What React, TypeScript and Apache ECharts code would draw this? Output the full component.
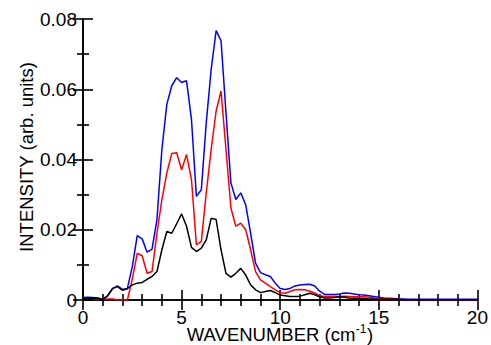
import React, { useEffect, useRef } from "react";
import * as echarts from "echarts";

// wavenumber grid (cm^-1), step 0.25
const wavenumbers: number[] = Array.from({ length: 81 }, (_, i) => i * 0.25);

// intensities in units of 0.01 (arb. units)
const blueValues: number[] = [
  0.07, 0.08, 0.07, 0.06, 0.03, 0.12, 0.32, 0.4, 0.3, 0.33,
  0.95, 1.83, 1.74, 1.36, 1.45, 2.29, 4.29, 5.57, 6.1, 6.33,
  6.19, 6.24, 5.14, 2.95, 3.14, 5.05, 6.57, 7.67, 7.38, 5.33,
  3.33, 2.86, 3.05, 2.71, 1.9, 1.05, 0.78, 0.72, 0.67, 0.48,
  0.33, 0.3, 0.33, 0.4, 0.43, 0.44, 0.45, 0.4, 0.25, 0.16,
  0.16, 0.16, 0.17, 0.2, 0.19, 0.17, 0.15, 0.14, 0.12, 0.1,
  0.08, 0.06, 0.05, 0.04, 0.03, 0.03, 0.02, 0.02, 0.02, 0.02,
  0.02, 0.02, 0.02, 0.02, 0.02, 0.02, 0.02, 0.02, 0.02, 0.02, 0.02,
];
const redValues: number[] = [
  0.05, 0.05, 0.04, 0.02, 0.02, 0.03, 0.03, 0.01, 0, 0,
  0.6, 1.33, 1.26, 0.76, 0.81, 1.9, 2.86, 3.62, 4.17, 4.19,
  3.71, 4.14, 3.43, 1.57, 1.67, 3.05, 4.29, 5.38, 5.95, 4.29,
  2.62, 2.1, 2.19, 2.0, 1.43, 0.81, 0.57, 0.48, 0.38, 0.29,
  0.21, 0.19, 0.24, 0.29, 0.3, 0.29, 0.25, 0.2, 0.12, 0.1,
  0.1, 0.1, 0.1, 0.11, 0.1, 0.09, 0.09, 0.09, 0.08, 0.06,
  0.05, 0.04, 0.03, 0.02, 0.02, 0.01, 0.01, 0.01, 0.01, 0.01,
  0.01, 0.01, 0.01, 0.01, 0.01, 0.01, 0.01, 0.01, 0.01, 0.01, 0.01,
];
const blackValues: number[] = [
  0.05, 0.06, 0.05, 0.04, 0.01, 0.12, 0.33, 0.38, 0.28, 0.32,
  0.43, 0.48, 0.5, 0.59, 0.67, 0.81, 1.43, 1.95, 1.9, 2.17,
  2.45, 2.1, 1.5, 1.38, 1.48, 1.71, 2.33, 2.29, 1.43, 0.76,
  0.65, 0.76, 0.9, 0.71, 0.43, 0.29, 0.21, 0.24, 0.27, 0.21,
  0.14, 0.12, 0.1, 0.1, 0.11, 0.15, 0.19, 0.15, 0.09, 0.06,
  0.06, 0.07, 0.09, 0.08, 0.06, 0.05, 0.04, 0.04, 0.03, 0.03,
  0.02, 0.02, 0.02, 0.02, 0.02, 0.01, 0.01, 0.01, 0.01, 0.01,
  0.01, 0.01, 0.01, 0.01, 0.01, 0.01, 0.01, 0.01, 0.01, 0.01, 0.01,
];

const yTickLabels: Record<string, string> = {
  "0": "0",
  "0.02": "0.02",
  "0.04": "0.04",
  "0.06": "0.06",
  "0.08": "0.08",
};

const yTitle = "INTENSITY (arb. units)";
const xTitleMain = "WAVENUMBER (cm";
const xTitleSup = "-1";
const xTitleEnd = ")";

const FONT = "'Liberation Sans', Arial, sans-serif";

function toPairs(vals: number[]): [number, number][] {
  return vals.map((v, i) => [wavenumbers[i], +(v * 0.01).toFixed(5)]);
}

function measure(text: string, size: number): number {
  const c = document.createElement("canvas").getContext("2d");
  if (!c) return text.length * size * 0.6;
  c.font = `${size}px ${FONT}`;
  return c.measureText(text).width;
}

export default function App() {
  const ref = useRef<HTMLDivElement>(null);
  useEffect(() => {
    document.body.style.margin = "0";
    if (!ref.current) return;
    const chart = echarts.init(ref.current, undefined, { renderer: "svg" });
    const axisLine = { show: true, lineStyle: { color: "#000", width: 1.6 } };
    const tickCommon = {
      show: true,
      inside: true,
      length: 10,
      lineStyle: { color: "#000", width: 1.6 },
    };
    const minorCommon = {
      show: true,
      splitNumber: 0,
      length: 6,
      lineStyle: { color: "#000", width: 1.6 },
    };
    const line = (data: number[], color: string) => ({
      type: "line",
      data: toPairs(data),
      showSymbol: false,
      symbol: "none",
      lineStyle: { color, width: 1.5 },
      clip: true,
    });

    const titleSize = 18.5;
    const supSize = 12;
    const wMain = measure(xTitleMain, titleSize);
    const wSup = measure(xTitleSup, supSize);
    const wEnd = measure(xTitleEnd, titleSize);
    const total = wMain + wSup + wEnd + 1;
    const cx = 280;
    const x0 = cx - total / 2;
    const baseY = 334.5;

    chart.setOption({
      animation: false,
      backgroundColor: "#fff",
      grid: { left: 83, right: 13, top: 19, bottom: 45, containLabel: false },
      xAxis: [
        {
          type: "value",
          min: 0,
          max: 20,
          interval: 5,
          axisLine,
          axisTick: tickCommon,
          minorTick: { ...minorCommon, splitNumber: 5 },
          splitLine: { show: false },
          axisLabel: {
            color: "#000",
            fontSize: 19,
            fontFamily: FONT,
            lineHeight: 16,
            margin: 9,
          },
        },
        {
          type: "value",
          position: "top",
          min: 0,
          max: 20,
          interval: 5,
          axisLine,
          axisTick: tickCommon,
          minorTick: { ...minorCommon, splitNumber: 5 },
          splitLine: { show: false },
          axisLabel: { show: false },
        },
      ],
      yAxis: [
        {
          type: "value",
          min: 0,
          max: 0.08,
          interval: 0.02,
          axisLine,
          axisTick: tickCommon,
          minorTick: { ...minorCommon, splitNumber: 2 },
          splitLine: { show: false },
          axisLabel: {
            color: "#000",
            fontSize: 19,
            fontFamily: FONT,
            margin: 6,
            formatter: (v: number) => yTickLabels[String(+v.toFixed(2))] ?? "",
          },
        },
        {
          type: "value",
          position: "right",
          min: 0,
          max: 0.08,
          interval: 0.02,
          axisLine,
          axisTick: tickCommon,
          minorTick: { ...minorCommon, splitNumber: 2 },
          splitLine: { show: false },
          axisLabel: { show: false },
        },
      ],
      graphic: [
        {
          type: "text",
          x: 26,
          y: 157,
          rotation: Math.PI / 2,
          style: {
            text: yTitle,
            fontSize: titleSize,
            fontFamily: FONT,
            fill: "#000",
            align: "center",
            verticalAlign: "middle",
          },
        },
        {
          type: "text",
          x: x0,
          y: baseY,
          style: {
            text: xTitleMain,
            fontSize: titleSize,
            fontFamily: FONT,
            lineHeight: 16,
            fill: "#000",
            align: "left",
            verticalAlign: "middle",
          },
        },
        {
          type: "text",
          x: x0 + wMain + 0.5,
          y: baseY - 5.5,
          style: {
            text: xTitleSup,
            fontSize: supSize,
            fontFamily: FONT,
            lineHeight: 10,
            fill: "#000",
            align: "left",
            verticalAlign: "middle",
          },
        },
        {
          type: "text",
          x: x0 + wMain + wSup + 1,
          y: baseY,
          style: {
            text: xTitleEnd,
            fontSize: titleSize,
            fontFamily: FONT,
            lineHeight: 16,
            fill: "#000",
            align: "left",
            verticalAlign: "middle",
          },
        },
      ],
      series: [
        line(blueValues, "#0000ff"),
        line(redValues, "#ff0000"),
        line(blackValues, "#000000"),
      ],
    });
    return () => chart.dispose();
  }, []);
  return <div ref={ref} style={{ width: 491, height: 345 }} />;
}
